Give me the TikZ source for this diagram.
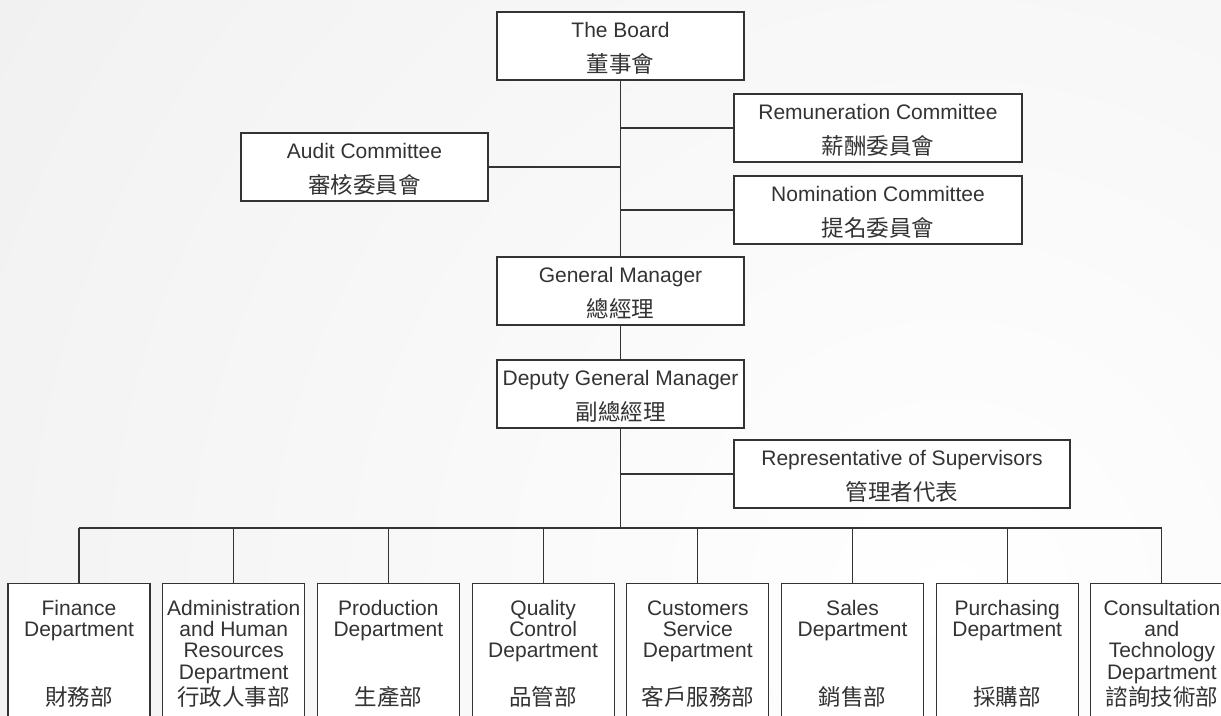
\documentclass[tikz,border=0pt]{standalone}
\usepackage{fontspec}
\setmainfont{Liberation Sans}
\newfontfamily\cjk{Noto Sans CJK TC}
\definecolor{linec}{HTML}{333333}
\definecolor{txt}{HTML}{333333}
\tikzset{
  boxline/.style={draw=linec, line width=1.1pt},
  topbox/.style={boxline, fill=white, minimum height=68pt, inner sep=0pt},
  deptbox/.style={boxline, fill=white, minimum width=142pt, minimum height=150pt, inner sep=0pt, anchor=north},
  en/.style={text=txt, inner sep=0pt, font=\fontsize{21}{21.3}\selectfont},
  zh/.style={text=txt, inner sep=0pt, font=\cjk\fontsize{22.5}{24}\selectfont},
  conn/.style={draw=linec, line width=1.1pt},
}
\begin{document}
\begin{tikzpicture}[x=1pt,y=-1pt]
\useasboundingbox (0,0) rectangle (1221,715);
\begin{scope}
\clip (0,0) rectangle (1221,715);
\shade[inner color=white, outer color=black!11] (950,600) circle (2250);

% top boxes
\node[topbox, minimum width=247pt] (board) at (620.5,46) {};
\node[topbox, minimum width=288pt] (remun) at (878,128) {};
\node[topbox, minimum width=247pt] (audit) at (364.5,167) {};
\node[topbox, minimum width=288pt] (nom) at (878,210) {};
\node[topbox, minimum width=247pt] (gm) at (620.5,291) {};
\node[topbox, minimum width=247pt] (dgm) at (620.5,394) {};
\node[topbox, minimum width=336pt] (rep) at (902,474) {};

\foreach \n/\e/\z in {board/The Board/董事會,
                      remun/Remuneration Committee/薪酬委員會,
                      audit/Audit Committee/審核委員會,
                      nom/Nomination Committee/提名委員會,
                      gm/General Manager/總經理,
                      dgm/Deputy General Manager/副總經理,
                      rep/Representative of Supervisors/管理者代表}{
  \node[en, anchor=base] (\n E) at ([yshift=9pt]\n.center) {\e};
  \node[zh, anchor=base] (\n C) at ([yshift=-26pt]\n.center) {\z};
}

% trunk and branches
\coordinate (bus) at (620.5,528);
\draw[conn] (board.south) -- (gm.north);
\draw[conn] (gm.south) -- (dgm.north);
\draw[conn] (dgm.south) -- (bus);
\draw[conn] (remun.west) -- (remun.west -| board.south);
\draw[conn] (audit.east) -- (audit.east -| board.south);
\draw[conn] (nom.west) -- (nom.west -| board.south);
\draw[conn] (rep.west) -- (rep.west -| dgm.south);

% departments
\foreach \i/\e/\z in {1/{Finance\\Department}/財務部,
                      2/{Administration\\and Human\\Resources\\Department}/行政人事部,
                      3/{Production\\Department}/生產部,
                      4/{Quality\\Control\\Department}/品管部,
                      5/{Customers\\Service\\Department}/客戶服務部,
                      6/{Sales\\Department}/銷售部,
                      7/{Purchasing\\Department}/採購部,
                      8/{Consultation\\and\\Technology\\Department}/諮詢技術部}{
  \pgfmathsetmacro{\cx}{79+(\i-1)*154.7}
  \node[deptbox] (d\i) at (\cx,583) {};
  \node[en, anchor=north, align=center] (d\i E) at (\cx,599) {\rule{0pt}{16pt}\e};
  \node[zh, anchor=base] (d\i C) at (\cx,705) {\z};
  \draw[conn] (d\i.north) -- (d\i.north |- bus);
}
\draw[conn] (d1.north |- bus) -- (d8.north |- bus);
\end{scope}
\end{tikzpicture}
\end{document}
